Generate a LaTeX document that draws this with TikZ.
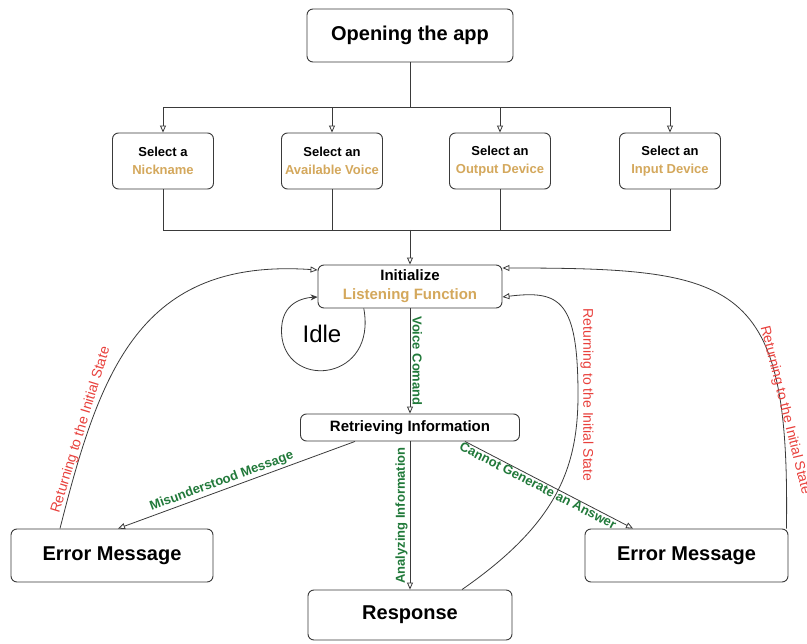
\documentclass[tikz,border=0pt]{standalone}
\usepackage{fontspec}
\setmainfont{Liberation Sans}
\usetikzlibrary{arrows.meta,calc}
\definecolor{gold}{HTML}{D4A85C}
\definecolor{grn}{HTML}{21793A}
\definecolor{rd}{HTML}{E8403C}
\definecolor{edgec}{HTML}{3A3A3A}
\tikzset{
  box/.style={draw=edgec, rounded corners=6pt, fill=white, line width=0.9pt, align=center, inner sep=0pt},
  conn/.style={draw=edgec, line width=0.8pt},
  arr/.style={conn, -{Triangle[open,length=7pt,width=6pt]}},
  glab/.style={text=grn, font=\fontsize{13}{15}\selectfont\bfseries, inner sep=2pt},
  rlab/.style={text=rd, font=\fontsize{14}{16}\selectfont, inner sep=2pt},
}
\newcommand{\gd}[1]{\textcolor{gold}{#1}}
\begin{document}
\begin{tikzpicture}[x=1pt,y=-1pt]
\useasboundingbox (0,0) rectangle (807,644);

% nodes
\node[box, minimum width=206pt, minimum height=53pt, font=\fontsize{20}{24}\selectfont\bfseries] (open) at (410,35.5) {Opening the app};

\node[box, minimum width=101pt, minimum height=56pt, font=\fontsize{13}{18}\selectfont\bfseries] (nick) at (163,161) {Select a\\\gd{Nickname}};
\node[box, minimum width=101pt, minimum height=56pt, font=\fontsize{13}{18}\selectfont\bfseries] (voice) at (332,161) {Select an\\\gd{Available Voice}};
\node[box, minimum width=101pt, minimum height=56pt, font=\fontsize{13}{18}\selectfont\bfseries] (outd) at (500,161) {Select an\\\gd{Output Device}};
\node[box, minimum width=101pt, minimum height=56pt, font=\fontsize{13}{18}\selectfont\bfseries] (inpd) at (670,161) {Select an\\\gd{Input Device}};

\node[box, minimum width=184pt, minimum height=43pt, font=\fontsize{15}{19}\selectfont\bfseries] (init) at (410,286.5) {Initialize\\\gd{Listening Function}};

\node[box, minimum width=219pt, minimum height=27pt, font=\fontsize{15}{18}\selectfont\bfseries] (retr) at (410,427.5) {Retrieving Information};

\node[box, minimum width=204pt, minimum height=50pt, font=\fontsize{20}{24}\selectfont\bfseries] (resp) at (410,615) {Response};
\node[box, minimum width=202pt, minimum height=53pt, font=\fontsize{20}{24}\selectfont\bfseries] (errL) at (112,555.5) {Error Message};
\node[box, minimum width=203pt, minimum height=53pt, font=\fontsize{20}{24}\selectfont\bfseries] (errR) at (686.5,555.5) {Error Message};

\node[font=\fontsize{24}{28}\selectfont] (idle) at (322,334) {Idle};

% tree
\coordinate (split) at (410,107);
\coordinate (merge) at (410,230);
\draw[conn] (open.south) -- (split);
\draw[arr] (split) -| (nick.north);
\draw[arr] (split) -| (voice.north);
\draw[arr] (split) -| (outd.north);
\draw[arr] (split) -| (inpd.north);
\draw[conn] (nick.south) |- (merge);
\draw[conn] (voice.south) |- (merge);
\draw[conn] (outd.south) |- (merge);
\draw[conn] (inpd.south) |- (merge);
\draw[arr] (merge) -- (init.north);

% main flow
\draw[arr] (init.south) -- node[midway, rotate=-90, anchor=south, glab] {Voice Comand} (retr.north);
\draw[arr] (retr.south) -- node[midway, rotate=90, anchor=south, glab] {Analyzing Information} (resp.north);
\draw[arr] ([xshift=-55pt]retr.south) -- node[pos=0.55, sloped, above, glab] {Misunderstood Message} ([xshift=6pt]errL.north);
\draw[arr] ([xshift=55pt]retr.south) -- node[pos=0.45, sloped, below, glab, inner sep=0.5pt] {Cannot Generate an Answer} ([xshift=-53.5pt]errR.north);

% idle loop
\draw[conn, -{Stealth[length=7pt,width=6pt]}] ($(init.south west)!0.25!(init.south east)$) .. controls (377,380) and (290,390) .. (282,338) .. controls (278,305) and (300,298) .. ([yshift=-10.5pt]init.west);

% returning curves
\draw[arr] ([xshift=-52pt]errL.north) .. controls (100,370) and (140,258) .. ([yshift=16.5pt]init.west);
\node[rotate=73, rlab] (retL) at (81,430) {Returning to the Initial State};
\draw[arr] ([xshift=52pt]resp.north) .. controls (555,525) and (578,470) .. (578,395) node[rotate=-90, anchor=south, rlab] (retM) {Returning to the Initial State} .. controls (578,300) and (560,290) .. ([yshift=-10.5pt]init.east);
\draw[arr] ([xshift=-2pt]errR.north east) .. controls (790,280) and (740,268) .. ([yshift=18.5pt]init.east);
\node[rotate=-76, rlab] (retR) at (785,410) {Returning to the Initial State};
\end{tikzpicture}
\end{document}
